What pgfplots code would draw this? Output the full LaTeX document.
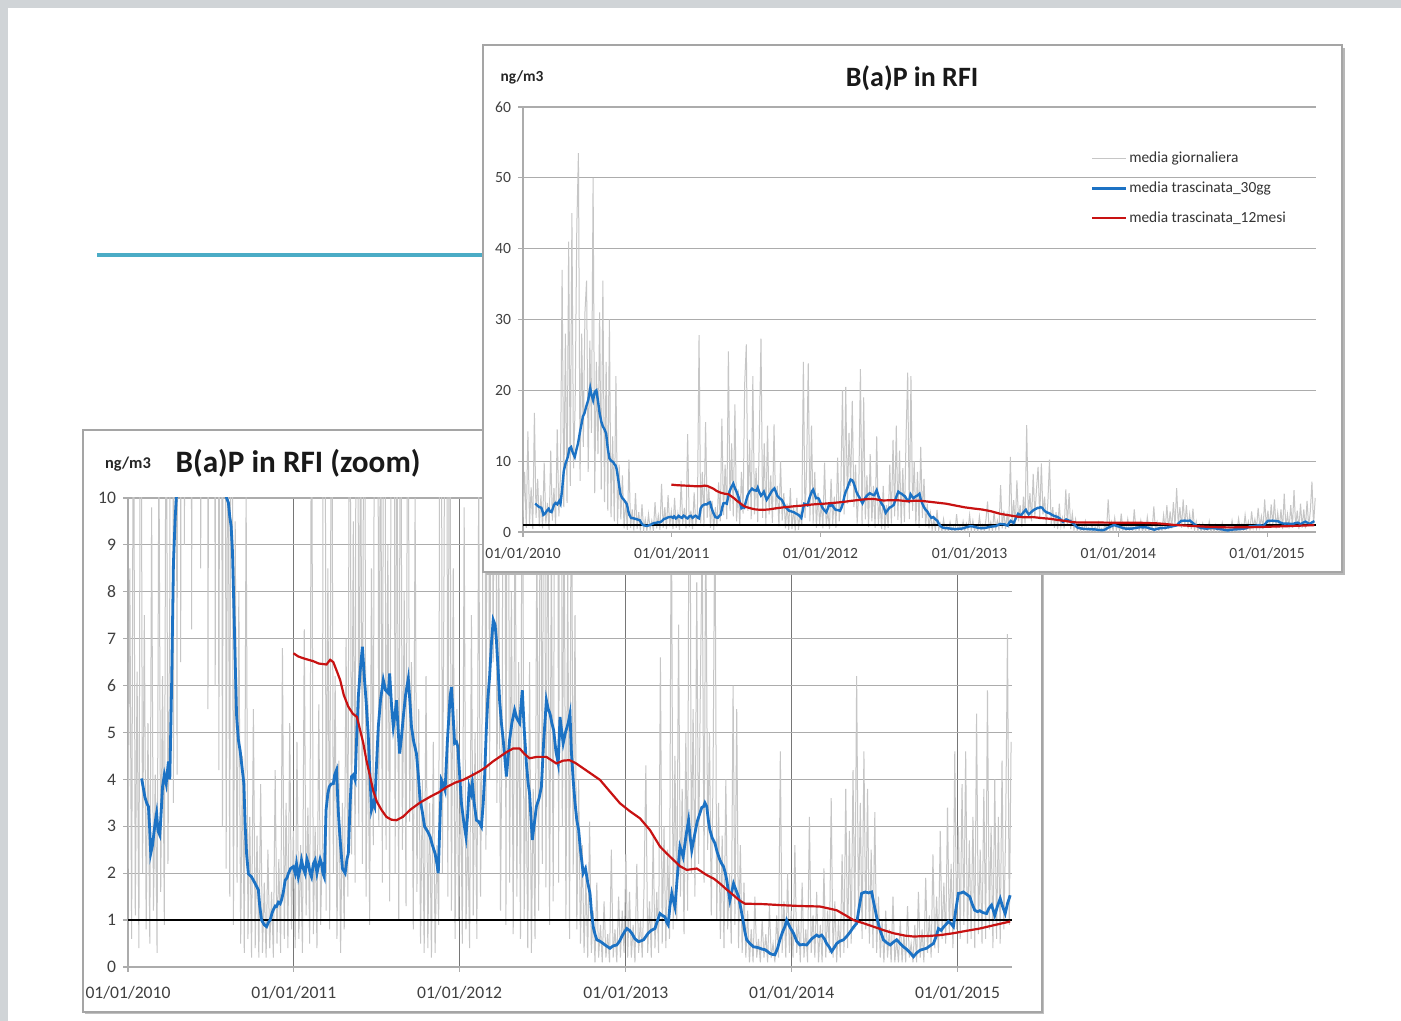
\documentclass[border=0pt]{standalone}
\usepackage{fontspec}
\setmainfont{Carlito}
\usepackage{pgfplots}
\usepackage{pgfplotstable}
\pgfplotsset{compat=1.18}

\definecolor{dailygray}{RGB}{198,198,198}
\definecolor{avgblue}{RGB}{28,114,196}
\definecolor{avgred}{RGB}{200,18,18}
\definecolor{gridgray}{RGB}{172,172,172}
\definecolor{yeargray}{RGB}{118,118,118}
\definecolor{tealrule}{RGB}{75,172,198}
\definecolor{labelgray}{RGB}{64,64,64}
\definecolor{framegray}{RGB}{165,165,165}
\definecolor{slidegray}{RGB}{208,212,215}

% media giornaliera (day from 01/01/2010, ng/m3)
\pgfplotstableread[row sep=\\]{day val\\
0 2.1\\ 4 8.5\\ 8 0.6\\ 12 14.2\\ 16 1.1\\ 20 6.3\\ 24 0.4\\ 28 16.8\\
32 2.0\\ 36 7.5\\ 40 0.8\\ 44 5.2\\ 48 0.5\\ 52 9.8\\ 56 1.2\\ 60 4.1\\ 64 0.3\\ 68 11.5\\ 72 1.6\\ 76 6.2\\ 80 0.9\\ 84 14.5\\ 88 2.2\\ 92 8.0\\
96 37.0\\ 100 3.5\\ 104 28.0\\ 108 4.1\\ 112 41.0\\ 116 6.5\\ 120 45.0\\ 124 9.0\\ 128 18.0\\ 132 43.0\\ 136 53.5\\ 140 7.2\\ 144 28.0\\ 148 12.0\\
152 31.0\\ 156 35.5\\ 160 8.5\\ 164 27.0\\ 168 14.0\\ 172 50.0\\ 176 5.5\\ 180 24.0\\ 184 11.0\\ 188 31.0\\ 192 6.0\\ 196 35.5\\ 200 4.2\\ 204 24.0\\
208 3.0\\ 212 30.0\\ 216 2.1\\ 220 13.5\\ 224 1.5\\ 228 22.0\\ 232 0.9\\ 236 9.5\\ 240 1.8\\
244 8.0\\ 248 0.5\\ 252 4.5\\ 256 0.3\\ 260 10.2\\ 264 0.6\\ 268 3.2\\ 272 0.2\\ 276 5.5\\ 280 0.4\\ 284 2.8\\ 288 0.2\\ 292 3.9\\ 296 0.3\\ 300 1.8\\
304 0.2\\ 308 2.5\\ 312 0.4\\ 316 1.6\\ 320 0.2\\ 324 4.2\\ 328 0.5\\ 332 2.3\\ 336 0.3\\ 340 6.8\\ 344 0.6\\ 348 3.5\\ 352 0.4\\ 356 5.2\\ 360 0.8\\ 364 2.9\\
368 0.4\\ 372 4.8\\ 376 0.6\\ 380 2.6\\ 384 0.3\\ 388 7.2\\ 392 1.1\\ 396 3.4\\ 400 0.5\\ 404 13.8\\ 408 0.7\\ 412 3.0\\ 416 0.4\\ 420 5.6\\ 424 0.9\\ 428 2.7\\ 432 27.8\\ 436 1.2\\
440 8.5\\ 444 0.8\\ 448 15.5\\ 452 2.0\\ 456 6.2\\ 460 0.6\\ 464 4.4\\ 468 0.3\\ 472 3.5\\ 476 0.8\\ 480 7.0\\ 484 1.5\\ 488 16.0\\ 492 2.4\\ 496 9.5\\ 500 1.8\\ 504 25.5\\ 508 3.0\\
512 12.5\\ 516 2.2\\ 520 18.0\\ 524 1.5\\ 528 6.0\\ 532 0.9\\ 536 8.5\\ 540 2.6\\ 544 21.0\\ 548 26.5\\ 552 3.0\\ 556 13.0\\ 560 1.8\\
564 22.0\\ 568 2.5\\ 572 9.0\\ 576 1.4\\ 580 14.0\\ 584 27.3\\ 588 2.0\\ 592 12.5\\ 596 1.0\\ 600 15.0\\ 604 2.5\\ 608 8.0\\ 612 1.3\\ 616 15.2\\ 620 3.1\\ 624 6.5\\ 628 0.8\\ 632 10.0\\ 636 1.6\\
640 5.5\\ 644 0.5\\ 648 4.0\\ 652 0.3\\ 656 6.2\\ 660 0.4\\ 664 3.5\\ 668 0.2\\ 672 4.8\\ 676 0.3\\ 680 2.6\\ 684 0.9\\ 688 24.0\\ 692 2.0\\ 696 9.0\\ 700 23.8\\ 704 1.5\\
708 15.0\\ 712 1.2\\ 716 8.5\\ 720 0.6\\ 724 5.5\\ 728 1.0\\ 732 4.2\\ 736 0.5\\ 740 9.8\\ 744 0.8\\ 748 3.0\\ 752 0.4\\ 756 7.5\\ 760 1.1\\
764 5.0\\ 768 0.6\\ 772 10.5\\ 776 1.5\\ 780 6.0\\ 784 20.0\\ 788 2.5\\ 792 20.5\\ 796 4.0\\ 800 14.0\\ 804 6.5\\ 808 18.5\\ 812 3.5\\ 816 9.5\\ 820 1.2\\ 824 6.0\\ 828 23.0\\ 832 0.9\\
836 19.0\\ 840 1.8\\ 844 8.0\\ 848 0.7\\ 852 11.0\\ 856 1.5\\ 860 6.5\\ 864 0.6\\ 868 13.5\\ 872 1.0\\ 876 4.5\\ 880 0.4\\
884 6.5\\ 888 0.3\\ 892 3.8\\ 896 0.6\\ 900 9.5\\ 904 1.2\\ 908 13.0\\ 912 2.2\\ 916 15.0\\ 920 1.7\\ 924 11.5\\ 928 0.9\\
932 9.0\\ 936 1.4\\ 940 13.5\\ 944 22.5\\ 948 1.8\\ 952 22.0\\ 956 3.0\\ 960 10.0\\ 964 1.0\\ 968 8.5\\ 972 0.6\\ 976 12.0\\ 980 2.0\\ 984 7.5\\ 988 0.8\\ 992 4.0\\ 996 0.5\\
1000 2.6\\ 1004 0.3\\ 1008 1.9\\ 1012 0.2\\ 1016 3.1\\ 1020 0.3\\ 1024 1.2\\ 1028 0.1\\ 1032 1.8\\ 1036 0.2\\ 1040 0.9\\ 1044 0.1\\ 1048 1.4\\ 1052 0.2\\
1056 0.7\\ 1060 0.1\\ 1064 2.5\\ 1068 0.2\\ 1072 0.8\\ 1076 0.1\\ 1080 1.5\\ 1084 0.2\\ 1088 1.2\\ 1092 0.3\\ 1096 2.4\\ 1100 0.2\\
1104 1.6\\ 1108 0.2\\ 1112 0.9\\ 1116 0.1\\ 1120 2.2\\ 1124 0.3\\ 1128 1.0\\ 1132 0.2\\ 1136 1.7\\ 1140 4.3\\ 1144 0.3\\ 1148 1.4\\ 1152 0.2\\
1156 2.8\\ 1160 0.4\\ 1164 1.6\\ 1168 0.3\\ 1172 6.6\\ 1176 0.5\\ 1180 3.0\\ 1184 0.4\\ 1188 2.5\\ 1192 0.6\\ 1196 10.6\\ 1200 0.8\\
1204 4.5\\ 1208 1.0\\ 1212 7.3\\ 1216 1.5\\ 1220 3.8\\ 1224 0.7\\ 1228 5.0\\ 1232 1.2\\ 1236 15.1\\ 1240 2.0\\ 1244 5.5\\ 1248 1.5\\ 1252 8.2\\
1256 2.2\\ 1260 6.0\\ 1264 9.2\\ 1268 1.8\\ 1272 9.7\\ 1276 2.5\\ 1280 5.0\\ 1284 1.1\\ 1288 4.2\\ 1292 10.2\\ 1296 1.0\\ 1300 3.5\\
1304 0.6\\ 1308 2.8\\ 1312 0.4\\ 1316 4.0\\ 1320 0.8\\ 1324 2.0\\ 1328 0.5\\ 1332 6.0\\ 1336 0.9\\ 1340 5.5\\ 1344 0.4\\ 1348 2.6\\ 1352 0.3\\ 1356 1.8\\ 1360 0.2\\
1364 1.2\\ 1368 0.1\\ 1372 0.8\\ 1376 0.1\\ 1380 1.5\\ 1384 0.2\\ 1388 0.6\\ 1392 0.1\\ 1396 1.0\\ 1400 0.2\\ 1404 0.7\\ 1408 0.1\\ 1412 1.3\\
1416 0.2\\ 1420 0.5\\ 1424 0.1\\ 1428 1.1\\ 1432 0.2\\ 1436 4.6\\ 1440 0.3\\ 1444 1.4\\ 1448 0.2\\ 1452 2.0\\ 1456 0.3\\ 1460 1.2\\
1464 0.2\\ 1468 2.6\\ 1472 0.3\\ 1476 1.0\\ 1480 0.1\\ 1484 1.8\\ 1488 0.2\\ 1492 0.8\\ 1496 0.1\\ 1500 3.2\\ 1504 0.3\\ 1508 1.1\\ 1512 0.2\\
1516 1.6\\ 1520 0.1\\ 1524 0.9\\ 1528 0.1\\ 1532 2.1\\ 1536 0.2\\ 1540 1.2\\ 1544 0.3\\ 1548 3.6\\ 1552 0.2\\ 1556 1.4\\ 1560 0.1\\
1564 1.0\\ 1568 0.2\\ 1572 2.4\\ 1576 0.3\\ 1580 3.8\\ 1584 0.4\\ 1588 2.9\\ 1592 0.5\\
1596 4.2\\ 1600 0.8\\ 1604 6.2\\ 1608 1.0\\ 1612 3.5\\ 1616 0.6\\ 1620 4.6\\ 1624 0.8\\ 1628 3.8\\ 1632 0.5\\ 1636 2.5\\ 1640 0.4\\ 1644 3.3\\ 1648 0.3\\ 1652 1.5\\ 1656 0.2\\ 1660 1.0\\
1664 0.1\\ 1668 1.2\\ 1672 0.2\\ 1676 0.8\\ 1680 0.1\\ 1684 1.5\\ 1688 0.1\\ 1692 0.6\\ 1696 0.1\\ 1700 1.0\\ 1704 0.1\\ 1708 0.7\\ 1712 0.1\\
1716 1.3\\ 1720 0.2\\ 1724 0.5\\ 1728 0.1\\ 1732 0.9\\ 1736 0.1\\ 1740 1.6\\ 1744 0.2\\ 1748 0.8\\ 1752 0.1\\ 1756 1.9\\ 1760 0.3\\
1764 1.1\\ 1768 0.2\\ 1772 2.4\\ 1776 0.4\\ 1780 1.5\\ 1784 0.3\\ 1788 2.9\\ 1792 0.6\\ 1796 1.8\\
1800 0.5\\ 1804 3.4\\ 1808 0.7\\ 1812 2.2\\ 1816 0.4\\ 1820 4.6\\ 1824 0.8\\ 1828 3.0\\ 1832 0.6\\ 1836 3.9\\ 1840 0.9\\ 1844 4.6\\ 1848 0.5\\
1852 2.7\\ 1856 0.6\\ 1860 3.2\\ 1864 0.4\\ 1868 5.4\\ 1872 0.7\\ 1876 2.5\\ 1880 0.5\\ 1884 3.8\\ 1888 0.6\\ 1892 5.9\\ 1896 0.8\\
1900 3.0\\ 1904 0.4\\ 1908 4.0\\ 1912 0.6\\ 1916 3.2\\ 1920 0.5\\ 1924 4.4\\ 1928 0.8\\ 1932 2.9\\ 1936 7.1\\ 1940 0.9\\ 1944 4.8\\
}\daily

% media trascinata 30gg
\pgfplotstableread[row sep=\\]{day val\\
30 4.02\\ 34 3.8\\ 37 3.63\\ 41 3.5\\ 45 3.42\\ 48 2.9\\ 50 2.42\\ 54 2.6\\ 57 2.85\\ 60 3.1\\ 63 3.28\\ 66 2.9\\ 70 2.81\\ 73 3.3\\ 76 3.84\\ 80 4.1\\
84 3.91\\ 87 4.2\\ 89 4.38\\ 92 4.0\\ 96 6.0\\ 100 8.6\\ 104 9.6\\ 110 10.6\\ 114 11.8\\ 118 12.0\\ 122 11.2\\ 127 10.6\\ 131 11.6\\ 135 12.5\\ 141 14.5\\
147 16.3\\ 151 16.8\\ 155 17.7\\ 160 18.6\\ 165 20.3\\ 168 19.4\\ 172 18.6\\ 176 19.8\\ 180 20.0\\ 184 18.5\\ 188 16.8\\ 192 15.6\\ 196 14.9\\ 200 14.5\\
204 13.9\\ 208 11.8\\ 212 10.4\\ 217 10.0\\ 221 9.9\\ 224 9.6\\ 227 9.4\\ 230 8.85\\ 233 7.7\\ 236 6.5\\ 239 5.37\\ 243 4.84\\ 247 4.6\\ 250 4.34\\
255 3.92\\ 258 3.0\\ 261 2.42\\ 265 1.99\\ 269 1.95\\ 272 1.92\\ 276 1.85\\ 280 1.78\\ 284 1.7\\ 287 1.64\\ 290 1.3\\ 294 1.0\\ 300 0.9\\ 305 0.86\\
309 0.95\\ 313 1.0\\ 317 1.15\\ 320 1.22\\ 324 1.3\\ 327 1.29\\ 331 1.38\\ 335 1.35\\ 338 1.43\\ 342 1.6\\ 346 1.85\\ 350 1.9\\ 353 1.99\\ 358 2.1\\
364 2.14\\ 368 2.0\\ 371 2.2\\ 375 1.92\\ 379 2.1\\ 382 2.28\\ 386 2.1\\ 390 1.99\\ 394 2.3\\ 397 2.21\\ 401 2.0\\ 404 1.92\\ 408 2.2\\ 412 2.28\\
416 2.0\\ 419 2.14\\ 423 2.3\\ 426 2.21\\ 429 2.0\\ 432 1.92\\ 436 3.35\\ 440 3.7\\ 443 3.84\\ 447 3.9\\ 452 3.91\\ 455 4.1\\ 459 4.2\\ 463 3.3\\
467 2.71\\ 472 2.1\\ 478 2.0\\ 482 2.3\\ 485 2.42\\ 489 3.5\\ 492 4.06\\ 496 4.1\\ 500 3.99\\ 503 4.8\\ 507 5.76\\ 511 6.3\\ 516 6.83\\ 520 6.2\\
524 5.69\\ 529 4.91\\ 533 4.0\\ 536 3.35\\ 540 3.5\\ 543 3.42\\ 547 4.3\\ 551 5.12\\ 556 5.7\\ 562 6.12\\ 567 5.9\\ 573 5.84\\ 576 6.26\\ 580 5.6\\
584 5.12\\ 588 5.4\\ 591 5.69\\ 595 5.0\\ 598 4.55\\ 602 4.9\\ 606 5.33\\ 611 5.8\\ 617 6.15\\ 621 5.6\\ 624 5.12\\ 629 4.8\\ 635 4.55\\ 639 4.1\\
643 3.56\\ 648 3.3\\ 653 2.99\\ 659 2.9\\ 665 2.78\\ 670 2.6\\ 676 2.42\\ 680 2.2\\ 683 2.0\\ 687 3.2\\ 690 3.99\\ 694 3.9\\ 698 3.77\\ 703 4.8\\
709 5.76\\ 712 5.97\\ 716 5.3\\ 719 4.77\\ 723 4.8\\ 726 4.7\\ 730 4.1\\ 734 3.49\\ 739 3.1\\ 744 2.78\\ 748 3.3\\ 751 3.84\\ 755 3.7\\ 758 3.92\\
762 3.5\\ 767 3.13\\ 772 3.1\\ 778 2.99\\ 782 3.5\\ 785 4.06\\ 789 5.12\\ 792 5.7\\ 796 6.19\\ 800 6.9\\ 804 7.4\\ 808 7.3\\ 811 6.97\\ 815 6.3\\
818 5.69\\ 822 5.2\\ 826 4.84\\ 830 4.4\\ 833 4.06\\ 837 4.5\\ 840 4.84\\ 845 5.2\\ 851 5.48\\ 856 5.3\\ 862 5.2\\ 868 5.9\\ 872 5.1\\ 877 4.34\\
881 3.9\\ 884 3.7\\ 887 3.2\\ 890 2.71\\ 895 3.1\\ 899 3.42\\ 905 3.6\\ 910 3.84\\ 915 4.8\\ 921 5.69\\ 925 5.5\\ 929 5.4\\ 933 5.2\\ 937 5.05\\
942 4.6\\ 947 4.34\\ 951 5.33\\ 955 5.0\\ 958 4.77\\ 963 5.0\\ 969 5.2\\ 973 5.4\\ 976 4.6\\ 980 3.99\\ 984 3.5\\ 988 3.13\\ 992 2.92\\ 996 2.5\\
1002 2.0\\ 1007 2.1\\ 1012 1.8\\ 1017 1.57\\ 1020 1.2\\ 1024 0.86\\ 1028 0.7\\ 1032 0.58\\ 1039 0.55\\ 1046 0.5\\ 1053 0.45\\ 1061 0.4\\ 1068 0.45\\
1076 0.47\\ 1082 0.55\\ 1087 0.65\\ 1093 0.75\\ 1098 0.82\\ 1104 0.78\\ 1109 0.72\\ 1116 0.6\\ 1124 0.54\\ 1130 0.56\\ 1135 0.58\\ 1140 0.65\\
1145 0.72\\ 1152 0.78\\ 1160 0.82\\ 1166 1.0\\ 1171 1.14\\ 1176 1.1\\ 1182 1.07\\ 1186 0.95\\ 1189 0.9\\ 1193 1.3\\ 1197 1.57\\ 1201 1.4\\ 1204 1.28\\
1209 1.9\\ 1215 2.57\\ 1219 2.45\\ 1222 2.35\\ 1227 2.7\\ 1230 2.9\\ 1234 3.13\\ 1237 2.8\\ 1241 2.49\\ 1245 2.7\\ 1248 2.85\\ 1253 3.1\\ 1259 3.28\\
1263 3.4\\ 1267 3.42\\ 1270 3.5\\ 1274 3.42\\ 1278 3.1\\ 1281 2.92\\ 1286 2.75\\ 1292 2.64\\ 1297 2.45\\ 1303 2.28\\ 1307 2.2\\ 1311 2.14\\ 1315 2.0\\
1318 1.85\\ 1322 1.6\\ 1325 1.42\\ 1329 1.6\\ 1333 1.78\\ 1338 1.65\\ 1344 1.5\\ 1350 1.2\\ 1355 0.93\\ 1358 0.75\\ 1362 0.58\\ 1369 0.5\\ 1377 0.43\\
1384 0.42\\ 1391 0.4\\ 1396 0.38\\ 1402 0.37\\ 1408 0.33\\ 1413 0.29\\ 1418 0.27\\ 1424 0.26\\ 1430 0.4\\ 1435 0.58\\ 1441 0.75\\ 1446 0.86\\ 1450 1.0\\
1457 0.85\\ 1465 0.72\\ 1472 0.55\\ 1479 0.47\\ 1486 0.48\\ 1494 0.47\\ 1505 0.6\\ 1516 0.68\\ 1521 0.65\\ 1527 0.68\\ 1533 0.6\\ 1538 0.5\\ 1544 0.42\\
1549 0.33\\ 1555 0.42\\ 1560 0.5\\ 1567 0.55\\ 1575 0.58\\ 1582 0.65\\ 1590 0.75\\ 1597 0.85\\ 1604 0.93\\ 1610 1.3\\ 1615 1.57\\ 1623 1.6\\ 1630 1.58\\
1637 1.6\\ 1642 1.35\\ 1648 1.07\\ 1655 0.8\\ 1663 0.58\\ 1670 0.52\\ 1678 0.47\\ 1685 0.53\\ 1692 0.58\\ 1700 0.5\\ 1707 0.43\\ 1714 0.38\\ 1722 0.3\\
1729 0.22\\ 1736 0.3\\ 1744 0.36\\ 1751 0.38\\ 1758 0.4\\ 1765 0.45\\ 1773 0.5\\ 1779 0.65\\ 1784 0.82\\ 1790 0.78\\ 1795 0.85\\ 1800 0.9\\ 1806 0.97\\
1812 0.92\\ 1817 0.86\\ 1822 1.2\\ 1828 1.57\\ 1834 1.58\\ 1839 1.6\\ 1846 1.55\\ 1853 1.5\\ 1858 1.35\\ 1864 1.21\\ 1870 1.18\\ 1875 1.2\\ 1882 1.16\\
1890 1.14\\ 1895 1.25\\ 1901 1.32\\ 1905 1.2\\ 1908 1.1\\ 1914 1.3\\ 1920 1.46\\ 1925 1.3\\ 1931 1.14\\ 1936 1.35\\ 1942 1.53\\
}\monthavg

% media trascinata 12 mesi
\pgfplotstableread[row sep=\\]{day val\\
364 6.69\\ 375 6.62\\ 390 6.57\\ 408 6.52\\ 420 6.47\\ 437 6.45\\ 445 6.55\\ 452 6.5\\ 460 6.3\\ 467 6.12\\ 475 5.8\\ 485 5.55\\ 495 5.4\\ 504 5.33\\
511 5.05\\ 518 4.77\\ 525 4.4\\ 533 4.06\\ 540 3.75\\ 548 3.52\\ 558 3.35\\ 569 3.2\\ 580 3.14\\ 591 3.13\\ 605 3.2\\ 621 3.35\\ 642 3.5\\ 665 3.63\\
685 3.73\\ 702 3.84\\ 720 3.93\\ 738 3.99\\ 760 4.1\\ 775 4.18\\ 789 4.27\\ 803 4.38\\ 818 4.48\\ 833 4.58\\ 848 4.66\\ 862 4.66\\ 872 4.55\\ 884 4.45\\
900 4.48\\ 921 4.48\\ 943 4.34\\ 958 4.4\\ 972 4.41\\ 985 4.35\\ 1000 4.25\\ 1015 4.15\\ 1039 3.99\\ 1060 3.75\\ 1083 3.49\\ 1105 3.32\\ 1127 3.17\\
1149 2.92\\ 1171 2.57\\ 1186 2.42\\ 1201 2.28\\ 1215 2.15\\ 1230 2.07\\ 1252 2.1\\ 1274 1.96\\ 1290 1.88\\ 1303 1.78\\ 1318 1.65\\ 1333 1.53\\ 1346 1.42\\
1358 1.35\\ 1400 1.34\\ 1435 1.32\\ 1480 1.3\\ 1523 1.29\\ 1560 1.21\\ 1580 1.1\\ 1597 1.0\\ 1620 0.93\\ 1641 0.86\\ 1665 0.78\\ 1685 0.72\\ 1710 0.67\\
1729 0.65\\ 1760 0.66\\ 1788 0.68\\ 1817 0.72\\ 1845 0.77\\ 1875 0.82\\ 1910 0.9\\ 1942 0.97\\
}\yearavg

\pgfplotsset{
  bap/.style={
    scale only axis, anchor=south west,
    xmin=0, xmax=1946, ymin=0,
    axis x line*=bottom, axis y line*=left,
    axis line style={-, draw=gridgray, line width=0.8pt},
    xtick={0,365,730,1096,1461,1826},
    xticklabels={01/01/2010,01/01/2011,01/01/2012,01/01/2013,01/01/2014,01/01/2015},
    tick align=outside, major tick length=2.5pt,
    tick style={draw=gridgray, line width=0.6pt},
    minor tick num=0,
    ymajorgrids,
    major y grid style={draw=gridgray, line width=0.6pt},
    ticklabel style={text=labelgray},
    /pgf/number format/assume math mode=true,
  }
}

\begin{document}
\begin{tikzpicture}
\useasboundingbox (0,0) rectangle (700.5pt,510.5pt);
\fill[white] (0,0) rectangle (700.5pt,510.5pt);
\fill[slidegray] (0,0) rectangle (4pt,510.5pt);
\fill[slidegray] (0,506.5pt) rectangle (700.5pt,510.5pt);
\draw[tealrule, line width=2pt] (48.5pt,383pt) -- (241.5pt,383pt);

% ---- zoom chart (behind)
\fill[framegray!70] (42.5pt,3.5pt) rectangle (522pt,294.5pt);
\filldraw[fill=white, draw=framegray, line width=0.8pt] (41.5pt,4.5pt) rectangle (521pt,295.5pt);
\begin{axis}[bap,
    at={(64pt,27pt)}, width=442pt, height=234.5pt,
    ymax=10, ytick={0,1,...,10},
    xmajorgrids,
    major x grid style={draw=yeargray, line width=0.6pt},
    ticklabel style={font=\fontsize{8.8}{10}\selectfont},
    xticklabel style={yshift=-3.5pt},
  ]
  \addplot[dailygray, line width=0.5pt] table[x=day, y=val] {\daily};
  \addplot[black, line width=0.6pt] coordinates {(0,1) (1946,1)};
  \addplot[avgblue, line width=1.4pt] table[x=day, y=val] {\monthavg};
  \addplot[avgred, line width=1.1pt] table[x=day, y=val] {\yearavg};
\end{axis}
\node[font=\bfseries\fontsize{8.2}{10}\selectfont, text=black!85] at (64pt,278.5pt) {ng/m3};
\node[font=\bfseries\fontsize{15.6}{18}\selectfont, text=black!90] at (149pt,279pt) {B(a)P in RFI (zoom)};

% ---- main chart (front)
\fill[framegray!80] (243pt,223pt) rectangle (672.5pt,486.5pt);
\filldraw[fill=white, draw=framegray, line width=0.8pt] (241.5pt,224.5pt) rectangle (671pt,488pt);
\begin{axis}[bap,
    at={(261.5pt,244.5pt)}, width=396.5pt, height=212.5pt,
    ymax=60, ytick={0,10,...,60},
    ticklabel style={font=\fontsize{7.8}{9}\selectfont},
    xticklabel style={yshift=-2pt},
    legend style={at={(0.708,0.909)}, anchor=north west, draw=none, fill=none,
      font=\fontsize{7.7}{9}\selectfont, text=black!80, row sep=6pt,
      nodes={inner sep=1pt}},
    legend cell align=left,
    legend image code/.code={\draw[#1] (0pt,0pt) -- (17pt,0pt);},
  ]
  \addplot[dailygray, line width=0.5pt] table[x=day, y=val] {\daily};
  \addlegendentry{media giornaliera}
  \addplot[black, line width=0.6pt, forget plot] coordinates {(0,1) (1946,1)};
  \addplot[avgblue, line width=1.2pt] table[x=day, y=val] {\monthavg};
  \addlegendentry{media trascinata\_30gg}
  \addplot[avgred, line width=1.1pt] table[x=day, y=val] {\yearavg};
  \addlegendentry{media trascinata\_12mesi}
\end{axis}
\node[font=\bfseries\fontsize{7.7}{9}\selectfont, text=black!85] at (261pt,472pt) {ng/m3};
\node[font=\bfseries\fontsize{14}{17}\selectfont, text=black!90] at (456pt,471.5pt) {B(a)P in RFI};
\end{tikzpicture}
\end{document}
